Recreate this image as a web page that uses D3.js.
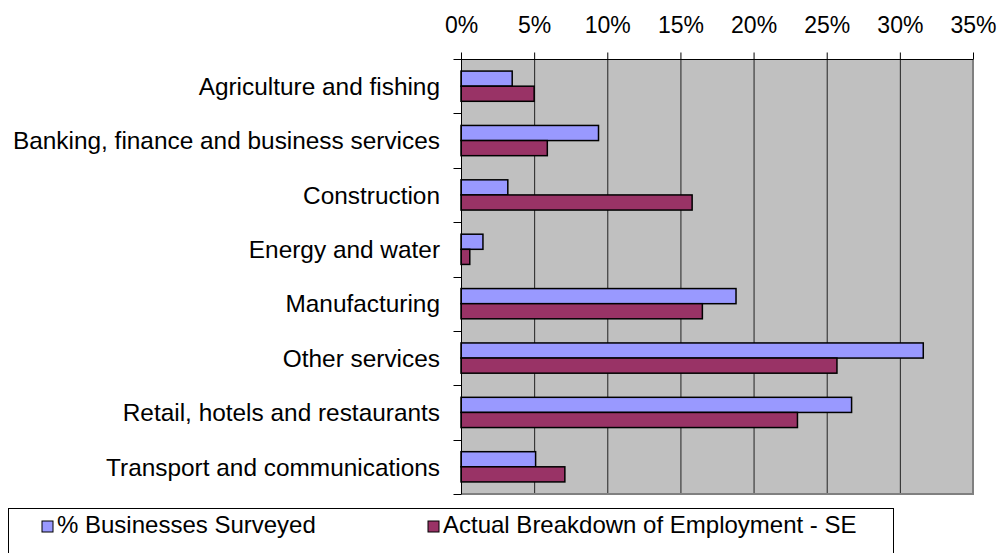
<!DOCTYPE html>
<html><head><meta charset="utf-8">
<script src="https://cdn.jsdelivr.net/npm/d3@7"></script>
<style>body{margin:0;background:#fff}svg{display:block}text{font-family:"Liberation Sans",Arial,sans-serif;fill:#000}</style>
</head><body><svg id="c" width="1001" height="553"></svg>
<script>
const categories = ["Agriculture and fishing","Banking, finance and business services","Construction","Energy and water","Manufacturing","Other services","Retail, hotels and restaurants","Transport and communications"];
const seriesNames = ["% Businesses Surveyed","Actual Breakdown of Employment - SE"];
const businessesSurveyed = [3.5, 9.4, 3.2, 1.5, 18.8, 31.6, 26.7, 5.1];
const actualEmployment = [5.0, 5.9, 15.8, 0.6, 16.5, 25.7, 23.0, 7.1];
const tickValues = [0,5,10,15,20,25,30,35];
const colors = ["#9999FF","#993366"];

const svg = d3.select("#c");
const L=461, R=973, T=59, B=494;
const x = d3.scaleLinear().domain([0,35]).range([L,R]);
const y = d3.scaleBand().domain(categories).range([T,B]).padding(0);
const series = [businessesSurveyed, actualEmployment];
const barH = y.bandwidth()*0.278;

// plot background
svg.append("rect").attr("x",L).attr("y",T).attr("width",R-L).attr("height",B-T).attr("fill","#C0C0C0");
// gridlines
svg.append("g").selectAll("line").data(tickValues.slice(1,-1)).join("line")
  .attr("x1",d=>x(d)+0.5).attr("x2",d=>x(d)+0.5).attr("y1",T).attr("y2",B).attr("stroke","#222").attr("stroke-width",1);
// plot border right/bottom
svg.append("line").attr("x1",R).attr("x2",R).attr("y1",T).attr("y2",B).attr("stroke","#808080").attr("stroke-width",2);
svg.append("line").attr("x1",L).attr("x2",R+1).attr("y1",B).attr("y2",B).attr("stroke","#808080").attr("stroke-width",2);

// bars
categories.forEach((c,i)=>{
  const cy = y(c)+y.bandwidth()/2;
  series.forEach((s,j)=>{
    svg.append("rect").attr("x",x(0)).attr("y",cy-barH+j*barH).attr("width",x(s[i])-x(0)).attr("height",barH)
      .attr("fill",colors[j]).attr("stroke","#000").attr("stroke-width",1.5);
  });
});

// top axis
const xAxis = d3.axisTop(x).tickValues(tickValues).tickFormat(d=>d+"%").tickSize(7).tickPadding(20);
const gx = svg.append("g").attr("transform",`translate(0,${T+0.5})`).call(xAxis);
gx.select(".domain").attr("stroke","#000").attr("d",`M${L},0H${R}`);
gx.selectAll(".tick line").attr("stroke","#000");
gx.selectAll("text").style("font-size","23px").attr("font-family",null);

// left axis
const gy = svg.append("g").attr("transform",`translate(${L+0.5},0)`);
gy.append("line").attr("x1",0).attr("x2",0).attr("y1",T).attr("y2",B).attr("stroke","#000");
const bounds = categories.map(c=>y(c)).concat([B]);
gy.selectAll("line.t").data(bounds).join("line").attr("class","t")
  .attr("x1",-8).attr("x2",0).attr("y1",d=>Math.round(d)+0.5).attr("y2",d=>Math.round(d)+0.5).attr("stroke","#000");
svg.append("g").selectAll("text").data(categories).join("text")
  .attr("x",440).attr("y",d=>y(d)+y.bandwidth()/2).attr("dy","0.36em").attr("text-anchor","end")
  .style("font-size","24.4px").text(d=>d);

// legend
svg.append("rect").attr("x",8.5).attr("y",508.5).attr("width",885).attr("height",80).attr("fill","#fff").attr("stroke","#000");
const legX = [42, 428];
seriesNames.forEach((n,j)=>{
  svg.append("rect").attr("x",legX[j]).attr("y",521).attr("width",11).attr("height",11).attr("fill",colors[j]).attr("stroke","#000").attr("stroke-width",1);
  svg.append("text").attr("x",legX[j]+15).attr("y",533).style("font-size","24px").text(n);
});
</script></body></html>
